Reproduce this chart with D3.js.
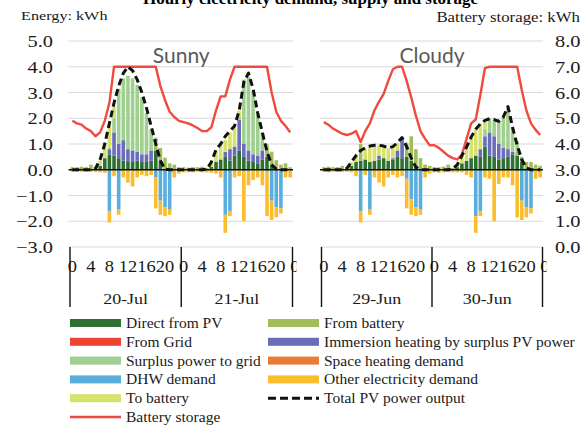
<!DOCTYPE html>
<html>
<head>
<meta charset="utf-8">
<script src="https://cdn.jsdelivr.net/npm/d3@7"></script>
<style>
  body { margin: 0; background: #fff; }
  svg { display: block; font-family: "Liberation Serif", "Times New Roman", serif; }
</style>
</head>
<body>
<svg width="587" height="426"></svg>
<script>
// categories
const days = ["20-Jul", "21-Jul", "29-Jun", "30-Jun"];
const hours = d3.range(24);
const hourTicks = [0, 4, 8, 12, 16, 20];
const leftTicks = [-3, -2, -1, 0, 1, 2, 3, 4, 5];
const rightTicks = [0, 1, 2, 3, 4, 5, 6, 7, 8];

// hourly values, one array per day (kWh)
const directFromPV = [
  [0,0,0,0,0,0.03,0.15,0.45,0.6,0.55,0.45,0.35,0.3,0.3,0.35,0.3,0.3,0.35,0.75,0.3,0.02,0,0,0],
  [0,0,0,0,0,0.02,0.12,0.3,0.4,0.5,0.35,0.55,0.75,0.5,0.35,0.3,0.25,0.4,0.5,0.15,0.02,0,0,0],
  [0,0,0,0,0,0.03,0.15,0.3,0.35,0.4,0.3,0.35,0.4,0.45,0.35,0.4,0.5,0.45,0.5,0.35,0.1,0,0,0],
  [0,0,0,0,0.02,0.1,0.25,0.35,0.45,0.55,0.5,0.9,0.55,0.5,0.4,0.45,0.5,0.6,0.55,0.3,0.05,0,0,0]
];
const fromBattery = [
  [0.1,0.1,0.12,0.1,0.2,0.05,0,0,0,0,0,0,0,0,0,0,0,0,0.35,0.55,0.45,0.25,0.2,0.1],
  [0.1,0.08,0.1,0.1,0.12,0.05,0,0,0,0,0,0,0,0,0,0,0,0,0.4,0.55,0.35,0.2,0.25,0.1],
  [0.1,0.12,0.1,0.1,0.15,0.05,0,0,0.65,0,0,0,0,0,0,0,0,0,0.5,0.95,0.7,0.45,0.2,0.15],
  [0.1,0.1,0.12,0.2,0.05,0,0,0,0,0,0,0,0,0,0,0,0,0,0.15,0.2,0.25,0.3,0.2,0.15]
];
const immersion = [
  [0,0,0,0,0,0,0,0,0.2,0.9,0.55,0.8,0.5,0.45,0.35,0.3,0.3,0.4,0.1,0,0,0,0,0],
  [0,0,0,0,0,0,0,0,0,0.2,0.45,0.35,1.2,0.5,0.4,0.3,0.3,0.35,0,0,0,0,0,0],
  [0,0,0,0,0,0,0,0,0,0,0,0,0.15,0,0,0.05,0.25,0.8,0,0,0,0,0,0],
  [0,0,0,0,0,0,0,0,0,0,0.3,0.4,0.9,0.8,0.6,0.4,0.3,0.1,0,0,0,0,0,0]
];
const surplus = [
  [0,0,0,0,0,0,0,0,0.05,0.55,2.15,2.4,2.85,2.8,2.6,2.2,1.6,0.8,0.05,0,0,0,0,0],
  [0,0,0,0,0,0,0,0,0,0,0,0,0.1,2.5,2.85,2.45,1.6,0.7,0.1,0,0,0,0,0],
  [0,0,0,0,0,0,0,0,0,0,0,0,0,0,0,0,0,0,0.05,0,0,0,0,0],
  [0,0,0,0,0,0,0,0,0,0,0,0.3,0.55,0.6,0.85,1.2,1.6,0.95,0.4,0,0,0,0,0]
];
const toBattery = [
  [0,0,0,0,0,0.02,0.2,0.5,0.9,0.45,0,0,0,0,0,0,0,0,0,0,0,0,0,0],
  [0,0,0,0,0,0,0.15,0.45,0.55,0.45,0.65,0.75,0.25,0,0,0,0,0,0,0,0,0,0,0],
  [0,0,0,0,0,0.02,0.15,0.25,0,0.4,0.6,0.6,0.4,0.45,0.5,0.45,0.3,0,0,0,0,0,0,0],
  [0,0,0,0,0,0.1,0.3,0.55,0.8,1.0,1.0,0.3,0,0,0,0,0,0,0,0,0,0,0,0]
];
const dhwDemand = [
  [0,0,0,0,0,0,0,0,-1.6,0,-1.55,0,0,0,0,0,0,0,-0.3,-1.2,-1.45,-1.55,0,0],
  [0,0,0,0,0,0,0,0,0,-1.75,-1.6,0,0,-0.05,0,0,0,0,-0.05,-1.2,-1.45,-1.5,0,0],
  [0,0,0,0,0,0,0,0,-1.6,0,-1.55,0,0,0,0,0,0,0,-0.35,-1.15,-1.45,-1.55,0,0],
  [0,0,0,0,0,0,0,0,0,-1.8,-1.6,0,0,0,0,0,0,0,-0.05,-1.2,-1.45,-1.5,0,0]
];
const otherDemand = [
  [-0.08,-0.08,-0.08,-0.08,-0.08,-0.08,-0.1,-0.12,-0.45,-0.25,-0.2,-0.3,-0.5,-0.65,-0.3,-0.2,-0.25,-0.2,-1.2,-0.55,-0.35,-0.2,-0.3,-0.15],
  [-0.1,-0.1,-0.1,-0.08,-0.1,-0.1,-0.12,-0.15,-0.3,-0.7,-0.2,-0.3,-0.25,-1.95,-0.6,-0.4,-0.3,-0.6,-1.75,-0.75,-0.4,-0.2,-0.3,-0.3],
  [-0.08,-0.1,-0.08,-0.08,-0.08,-0.08,-0.1,-0.25,-0.45,-0.2,-0.2,-0.3,-0.5,-0.65,-0.3,-0.2,-0.3,-0.25,-1.15,-0.6,-0.35,-0.2,-0.3,-0.15],
  [-0.1,-0.12,-0.1,-0.1,-0.1,-0.1,-0.1,-0.2,-0.3,-0.65,-0.2,-0.3,-0.35,-2.0,-0.55,-0.3,-0.3,-0.6,-1.8,-0.75,-0.4,-0.2,-0.35,-0.3]
];
const totalPV = [
  [0,0,0,0,0,0.05,0.4,1.0,1.8,2.6,3.25,3.75,4.0,3.85,3.5,3.0,2.4,1.7,1.0,0.35,0.02,0,0,0],
  [0,0,0,0,0,0.02,0.3,0.78,1.0,1.3,1.5,1.7,2.3,3.4,3.75,3.15,2.2,1.45,0.7,0.2,0.02,0,0,0],
  [0,0,0,0,0,0.05,0.3,0.55,0.75,0.85,0.92,0.95,0.95,0.92,0.85,0.9,1.05,1.25,0.9,0.45,0.1,0,0,0],
  [0,0,0,0,0.03,0.2,0.55,0.88,1.27,1.57,1.78,1.92,1.98,1.95,1.88,2.05,2.45,1.65,0.95,0.4,0.07,0,0,0]
];
const batteryStorage = [
  [4.9,4.8,4.75,4.6,4.5,4.3,4.45,4.9,5.6,7.0,7.0,7.0,7.0,7.0,7.0,7.0,7.0,7.0,7.0,6.25,5.7,5.25,5.05,4.9],
  [4.85,4.8,4.72,4.62,4.5,4.5,4.65,5.3,5.85,5.85,6.5,7.0,7.0,7.0,7.0,7.0,7.0,7.0,7.0,6.0,5.25,4.9,4.7,4.45],
  [4.85,4.75,4.6,4.5,4.4,4.35,4.4,4.5,4.08,4.5,4.8,5.3,5.65,5.95,6.45,6.9,7.0,7.0,6.45,5.8,5.1,4.5,4.2,3.95],
  [3.95,3.85,3.7,3.55,3.45,3.4,3.6,4.2,4.8,4.95,5.9,6.95,7.0,7.0,7.0,7.0,7.0,7.0,7.0,6.1,5.3,4.8,4.55,4.35]
];

const colors = {
  direct: "#2f6f33", fromBatt: "#a1bd5c", fromGrid: "#ec4330", immersion: "#6a6db9",
  surplus: "#9fd08f", spaceHeat: "#e77b38", dhw: "#5aaede", other: "#fbbd2e",
  toBatt: "#d5e26c", battery: "#ef4a3d"
};

const svg = d3.select("svg");
const yL = d3.scaleLinear().domain([-3, 5]).range([247, 41]);
const yR = d3.scaleLinear().domain([0, 8]).range([247, 41]);

// stretched serif text, like the reference
function stext(g, x, y, str, size, anchor, sx) {
  return g.append("text")
    .attr("transform", `translate(${x},${y}) scale(${sx || 1.2},1)`)
    .attr("text-anchor", anchor)
    .style("font-size", size + "px")
    .attr("fill", "#1a1a1a")
    .text(str);
}

// cut-off title at the top
svg.append("text")
  .attr("x", 143).attr("y", 4)
  .attr("textLength", 335).attr("lengthAdjust", "spacingAndGlyphs")
  .style("font-size", "17px").style("font-weight", "bold")
  .text("Hourly electricity demand, supply and storage");

stext(svg, 21, 20, "Energy: kWh", 13.5, "start");
stext(svg, 580, 22, "Battery storage: kWh", 14, "end");

const panels = [
  { days: [0, 1], x0: 70, x1: 292.5, name: "Sunny" },
  { days: [2, 3], x0: 321.5, x1: 542.5, name: "Cloudy" }
];

const keys = ["direct", "fromBatt", "immersion", "surplus", "dhw", "other", "toBatt"];
const source = { direct: directFromPV, fromBatt: fromBattery, immersion: immersion,
  surplus: surplus, dhw: dhwDemand, other: otherDemand, toBatt: toBattery };

panels.forEach((p, pi) => {
  const g = svg.append("g");
  const rows = [];
  p.days.forEach((d, k) => hours.forEach(h => {
    const r = { i: k * 24 + h, day: d, h: h };
    keys.forEach(key => r[key] = source[key][d][h]);
    r.pv = totalPV[d][h];
    r.bat = batteryStorage[d][h];
    rows.push(r);
  }));

  const x = d3.scaleBand().domain(rows.map(r => r.i)).range([p.x0, p.x1])
    .paddingInner(0.22).paddingOuter(0.11);
  const step = x.step();
  const cx = i => x(i) + x.bandwidth() / 2;

  // gridlines
  g.selectAll(".grid").data(leftTicks.filter(t => t !== 0)).join("line")
    .attr("x1", p.x0 - 1.5).attr("x2", p.x1 + 0.5)
    .attr("y1", d => yL(d)).attr("y2", d => yL(d))
    .attr("stroke", "#d9d9d9").attr("stroke-width", 1);

  // stacked bars
  const stack = d3.stack().keys(keys).offset(d3.stackOffsetDiverging)(rows);
  g.selectAll(".series").data(stack).join("g")
    .attr("fill", s => colors[s.key])
    .selectAll("rect").data(s => s.filter(v => v[1] !== v[0])).join("rect")
    .attr("x", v => x(v.data.i))
    .attr("width", x.bandwidth())
    .attr("y", v => yL(Math.max(v[0], v[1])))
    .attr("height", v => Math.abs(yL(v[0]) - yL(v[1])));

  // zero line
  g.append("line").attr("x1", p.x0 - 1.5).attr("x2", p.x1 + 0.5)
    .attr("y1", yL(0)).attr("y2", yL(0)).attr("stroke", "#111").attr("stroke-width", 1.6);

  // battery storage (right axis)
  g.append("path").datum(rows)
    .attr("d", d3.line().x(r => cx(r.i)).y(r => yR(r.bat)))
    .attr("fill", "none").attr("stroke", colors.battery).attr("stroke-width", 2.4)
    .attr("stroke-linejoin", "round");

  // total PV output
  g.append("path").datum(rows)
    .attr("d", d3.line().x(r => cx(r.i)).y(r => yL(r.pv)))
    .attr("fill", "none").attr("stroke", "#111").attr("stroke-width", 3)
    .attr("stroke-dasharray", "7,4").attr("stroke-linejoin", "round");

  // panel name
  g.append("text").attr("x", (p.x0 + p.x1) / 2).attr("y", 63)
    .attr("text-anchor", "middle").attr("fill", "#595959")
    .style("font-family", "Lato, 'Liberation Sans', sans-serif").style("font-size", "21px")
    .text(p.name);

  // category axis: hour labels, day labels, separators
  const clipId = "clip" + pi;
  svg.append("clipPath").attr("id", clipId).append("rect")
    .attr("x", p.x0 - 20).attr("y", 250).attr("width", p.x1 - p.x0 + 24).attr("height", 30);
  const ax = g.append("g").attr("clip-path", `url(#${clipId})`);
  p.days.forEach((d, k) => {
    hourTicks.forEach(h => stext(ax, cx(k * 24 + h), 272, String(h), 16, "middle", 1.15));
    stext(g, p.x0 + (k + 0.5) * 24 * step, 304, days[d], 15, "middle");
  });
  stext(ax, p.x1 + step / 2, 272, "0", 16, "middle", 1.15);

  const seps = d3.range(p.days.length + 1).map(k => p.x0 + k * 24 * step);
  g.selectAll(".sep").data(seps).join("line")
    .attr("x1", d => d).attr("x2", d => d).attr("y1", 247).attr("y2", 307)
    .attr("stroke", "#111").attr("stroke-width", 1.4);
});

// value axes
leftTicks.forEach(t => stext(svg, 53, yL(t) + 6, d3.format(".1f")(t), 17, "end"));
rightTicks.forEach(t => stext(svg, 555, yR(t) + 6, d3.format(".1f")(t), 17, "start"));

// legend
const legendLeft = [
  { label: "Direct from PV", key: "direct" },
  { label: "From Grid", key: "fromGrid" },
  { label: "Surplus power to grid", key: "surplus" },
  { label: "DHW demand", key: "dhw" },
  { label: "To battery", key: "toBatt" },
  { label: "Battery storage", key: "battery", line: true }
];
const legendRight = [
  { label: "From battery", key: "fromBatt" },
  { label: "Immersion heating by surplus PV power", key: "immersion" },
  { label: "Space heating demand", key: "spaceHeat" },
  { label: "Other electricity demand", key: "other" },
  { label: "Total PV power output", key: "pv", dash: true }
];
const rowY = d3.scaleLinear().domain([0, 5]).range([323, 417]);
[[legendLeft, 70], [legendRight, 268]].forEach(([items, lx]) => {
  const lg = svg.append("g");
  items.forEach((it, j) => {
    const yy = rowY(j);
    if (it.line) {
      lg.append("line").attr("x1", lx).attr("x2", lx + 51).attr("y1", yy).attr("y2", yy)
        .attr("stroke", colors.battery).attr("stroke-width", 2.5);
    } else if (it.dash) {
      lg.append("line").attr("x1", lx).attr("x2", lx + 51).attr("y1", yy).attr("y2", yy)
        .attr("stroke", "#111").attr("stroke-width", 3).attr("stroke-dasharray", "8,4");
    } else {
      lg.append("rect").attr("x", lx).attr("y", yy - 4).attr("width", 51).attr("height", 8)
        .attr("fill", colors[it.key]);
    }
    lg.append("text").attr("x", lx + 56).attr("y", yy + 5)
      .style("font-size", "15.5px").attr("fill", "#1a1a1a").text(it.label);
  });
});
</script>
</body>
</html>
